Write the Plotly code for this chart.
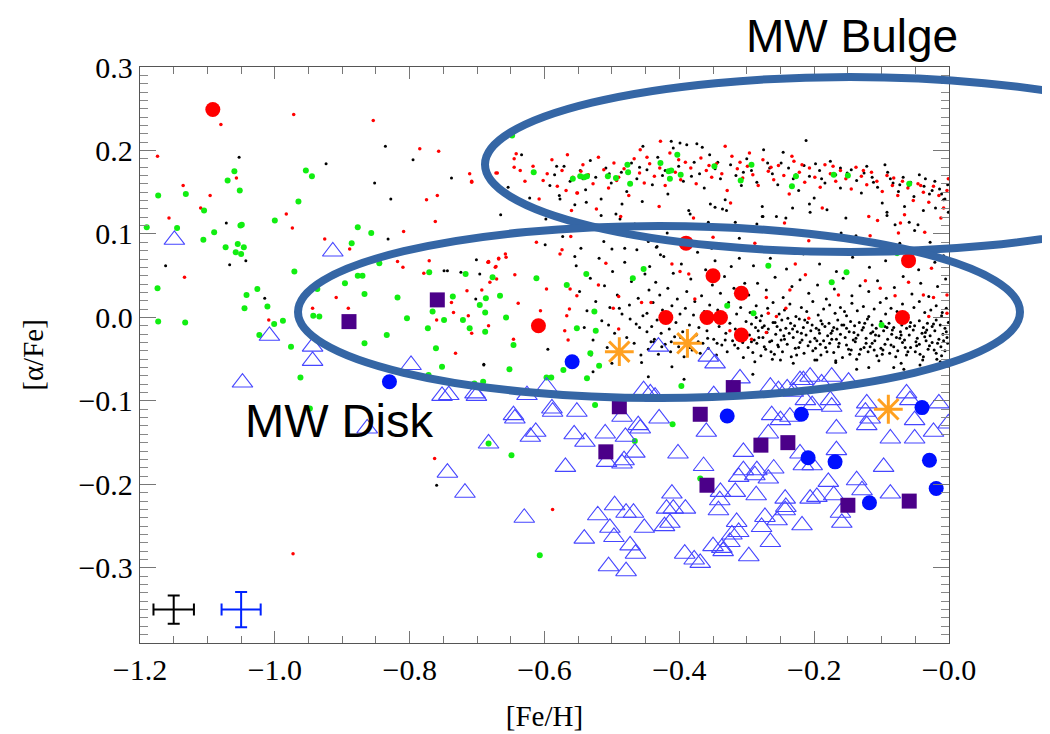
import plotly.graph_objects as go

# ---------------- data ----------------
X_TICKS = [-1.2, -1.0, -0.8, -0.6, -0.4, -0.2, 0.0]
X_TICK_TEXT = ["\u22121.2", "\u22121.0", "\u22120.8", "\u22120.6", "\u22120.4", "\u22120.2", "\u22120.0"]
Y_TICKS = [-0.3, -0.2, -0.1, 0.0, 0.1, 0.2, 0.3]
Y_TICK_TEXT = ["\u22120.3", "\u22120.2", "\u22120.1", "0.0", "0.1", "0.2", "0.3"]

BLACK_FIELD = [(-1.053,0.192),(-1.072,0.113),(-1.162,0.062),(-1.067,0.063),(-1.043,0.068),(-1.015,0.023),
    (-0.852,0.161),(-0.828,0.142),(-0.832,0.094),(-0.701,0.069),(-0.749,0.056),(-0.744,0.056),(-0.724,0.054),
    (-0.696,0.052),(-0.702,0.022),(-0.690,-0.056),(-0.760,-0.201),(-0.836,0.205),(-0.924,0.184),(-0.795,0.189),
    (-0.738,0.167),(-0.665,0.123),(-0.654,0.156),(-0.622,0.143),(-0.634,0.195),(-0.599,0.087),(-0.555,0.073),
    (-0.500,0.082),(-0.481,0.083),(-0.433,0.085),(-0.428,0.075),(-0.446,0.091),(-0.577,0.142),(-0.538,0.138),
    (-0.485,0.136),(-0.516,0.122),(-0.488,0.118),(-0.384,0.124),(-0.354,0.136),(-0.347,0.132),(-0.330,0.128),
    (-0.336,0.130),(-0.399,0.209),(-0.374,0.208),(-0.454,0.205),(-0.317,0.114),(-0.285,0.112),(-0.276,0.121),
    (-0.232,0.131),(-0.207,0.136),(-0.206,0.126),(-0.242,0.119),(-0.277,0.121),(-0.160,0.101),(-0.092,0.122),
    (-0.080,0.111),(-0.059,0.114),(-0.051,0.104),(-0.066,0.133),(-0.028,0.090),(-0.073,0.089),(-0.038,0.128),
    (-0.008,0.141),(-0.001,0.126),(-0.212,0.212),(-0.095,0.183),(-0.595,-0.038),(-0.690,-0.057),(-0.528,-0.065),
    (-0.446,-0.071),(-0.393,-0.074),(-0.291,-0.068),(-0.456,-0.054),(-0.411,-0.059),(-0.137,-0.062),(-0.119,-0.060),
    (-0.082,-0.060),(-0.067,-0.062),(-0.043,-0.057),(-0.018,-0.050),(-0.250,-0.051),(-0.196,-0.051),(-0.168,-0.052)]

BLACK_DISK = [(-0.553,0.062),(-0.548,0.031),(-0.541,-0.012),(-0.537,0.008),(-0.532,0.047),(-0.528,-0.027),
    (-0.524,0.019),(-0.519,0.071),(-0.515,-0.004),(-0.511,0.038),(-0.507,-0.036),(-0.503,0.012),(-0.499,0.055),
    (-0.496,-0.019),(-0.492,0.027),(-0.488,-0.041),(-0.485,0.004),(-0.481,0.066),(-0.478,-0.024),(-0.474,0.015),
    (-0.471,0.043),(-0.467,-0.031),(-0.464,-0.008),(-0.461,0.023),(-0.457,-0.045),(-0.454,0.002),(-0.451,0.052),
    (-0.448,-0.017),(-0.445,0.033),(-0.442,-0.029),(-0.546,0.083),(-0.512,0.091),(-0.478,0.098),(-0.463,0.081),
    (-0.531,-0.045),(-0.500,-0.055),(-0.459,-0.012),(-0.473,-0.002),(-0.489,0.011),(-0.505,-0.009),
    (-0.448,0.005),(-0.446,-0.038),(-0.444,0.061),(-0.441,-0.011),(-0.439,0.018),(-0.437,-0.026),(-0.435,0.042),
    (-0.433,-0.003),(-0.431,-0.044),(-0.429,0.027),(-0.427,-0.019),(-0.425,0.009),(-0.423,0.073),(-0.421,-0.032),
    (-0.419,0.001),(-0.417,0.035),(-0.415,-0.014),(-0.413,-0.041),(-0.411,0.014),(-0.409,0.053),(-0.407,-0.023),
    (-0.405,-0.006),(-0.403,0.022),(-0.401,-0.035),(-0.399,0.004),(-0.397,0.064),(-0.395,-0.017),(-0.393,-0.047),
    (-0.391,0.011),(-0.389,0.031),(-0.387,-0.028),(-0.385,-0.009),(-0.383,0.046),(-0.381,-0.039),(-0.379,0.003),
    (-0.377,0.019),(-0.375,-0.021),(-0.373,0.078),(-0.371,-0.012),(-0.369,-0.043),(-0.367,0.026),(-0.365,-0.031),
    (-0.363,0.007),(-0.361,0.057),(-0.359,-0.016),(-0.357,-0.037),(-0.355,0.015),(-0.353,-0.004),(-0.351,0.039),
    (-0.349,-0.026),(-0.347,0.068),(-0.345,-0.045),(-0.343,0.009),(-0.341,-0.011),(-0.339,0.029),(-0.337,-0.033),
    (-0.335,0.002),(-0.333,0.049),(-0.331,-0.019),(-0.329,-0.041),(-0.327,0.018),(-0.325,-0.007),(-0.323,0.061),
    (-0.321,-0.028),(-0.319,0.035),(-0.317,-0.014),(-0.315,0.004),(-0.313,-0.037),(-0.311,0.071),(-0.309,0.012),
    (-0.307,-0.023),(-0.305,-0.048),(-0.303,0.041),(-0.301,-0.005),(-0.438,-0.029),(-0.426,-0.035),(-0.412,-0.029),
    (-0.398,-0.024),(-0.384,-0.036),(-0.372,-0.029),(-0.358,-0.025),(-0.344,-0.031),(-0.332,-0.027),(-0.318,-0.033),
    (-0.306,-0.030),(-0.434,0.084),(-0.398,0.088),(-0.352,0.083),(-0.326,0.086),
    (-0.298,-0.036),(-0.291,-0.042),(-0.285,-0.031),(-0.279,-0.046),(-0.272,-0.038),(-0.266,-0.029),(-0.259,-0.044),
    (-0.253,-0.035),(-0.247,-0.041),(-0.240,-0.032),(-0.234,-0.047),(-0.228,-0.037),(-0.221,-0.030),(-0.215,-0.043),
    (-0.209,-0.034),(-0.202,-0.040),(-0.196,-0.028),(-0.190,-0.045),(-0.183,-0.036),(-0.177,-0.031),(-0.171,-0.042),
    (-0.164,-0.035),(-0.158,-0.048),(-0.152,-0.033),(-0.145,-0.039),(-0.139,-0.029),(-0.133,-0.044),(-0.126,-0.036),
    (-0.120,-0.041),(-0.114,-0.031),(-0.107,-0.046),(-0.101,-0.037),(-0.095,-0.032),(-0.088,-0.043),(-0.082,-0.035),
    (-0.076,-0.040),(-0.069,-0.030),(-0.063,-0.045),(-0.057,-0.036),(-0.050,-0.041),(-0.044,-0.032),(-0.038,-0.047),
    (-0.031,-0.038),(-0.025,-0.030),(-0.019,-0.043),(-0.012,-0.035),(-0.006,-0.040),(-0.002,-0.031),
    (-0.296,-0.021),(-0.289,-0.027),(-0.283,-0.016),(-0.276,-0.024),(-0.270,-0.018),(-0.263,-0.028),(-0.257,-0.020),
    (-0.250,-0.015),(-0.244,-0.026),(-0.237,-0.019),(-0.231,-0.024),(-0.225,-0.017),(-0.218,-0.027),(-0.212,-0.021),
    (-0.205,-0.016),(-0.199,-0.025),(-0.192,-0.019),(-0.186,-0.028),(-0.180,-0.022),(-0.173,-0.016),(-0.167,-0.026),
    (-0.161,-0.020),(-0.154,-0.024),(-0.148,-0.017),(-0.142,-0.027),(-0.135,-0.021),(-0.129,-0.015),(-0.123,-0.025),
    (-0.116,-0.019),(-0.110,-0.028),(-0.104,-0.022),(-0.097,-0.016),(-0.091,-0.026),(-0.085,-0.020),(-0.078,-0.024),
    (-0.072,-0.017),(-0.066,-0.027),(-0.059,-0.021),(-0.053,-0.015),(-0.047,-0.025),(-0.040,-0.019),(-0.034,-0.028),
    (-0.028,-0.022),(-0.021,-0.016),(-0.015,-0.026),(-0.009,-0.020),(-0.003,-0.024),
    (-0.293,-0.008),(-0.287,-0.012),(-0.280,-0.004),(-0.274,-0.010),(-0.268,-0.014),(-0.261,-0.006),(-0.255,-0.011),
    (-0.248,-0.003),(-0.242,-0.013),(-0.235,-0.007),(-0.229,-0.010),(-0.222,-0.002),(-0.216,-0.012),(-0.210,-0.006),
    (-0.203,-0.009),(-0.197,-0.013),(-0.190,-0.004),(-0.184,-0.011),(-0.178,-0.007),(-0.171,-0.012),(-0.165,-0.003),
    (-0.159,-0.009),(-0.152,-0.013),(-0.146,-0.005),(-0.140,-0.010),(-0.133,-0.006),(-0.127,-0.012),(-0.121,-0.002),
    (-0.114,-0.009),(-0.108,-0.013),(-0.101,-0.005),(-0.095,-0.011),(-0.089,-0.007),(-0.082,-0.012),(-0.076,-0.003),
    (-0.070,-0.009),(-0.063,-0.013),(-0.057,-0.006),(-0.051,-0.010),(-0.044,-0.004),(-0.038,-0.012),(-0.032,-0.007),
    (-0.025,-0.011),(-0.019,-0.003),(-0.013,-0.009),(-0.006,-0.013),(-0.001,-0.006),
    (-0.295,0.006),(-0.286,0.014),(-0.278,0.002),(-0.269,0.011),(-0.261,0.018),(-0.252,0.004),(-0.244,0.009),
    (-0.236,0.016),(-0.227,0.001),(-0.219,0.012),(-0.211,0.007),(-0.202,0.019),(-0.194,0.003),(-0.186,0.010),
    (-0.177,0.015),(-0.169,0.005),(-0.161,0.012),(-0.152,0.002),(-0.144,0.017),(-0.136,0.008),(-0.127,0.013),
    (-0.119,0.001),(-0.111,0.010),(-0.102,0.018),(-0.094,0.004),(-0.086,0.011),(-0.077,0.007),(-0.069,0.016),
    (-0.061,0.003),(-0.052,0.012),(-0.044,0.019),(-0.036,0.006),(-0.027,0.009),(-0.019,0.014),(-0.011,0.002),
    (-0.004,0.011),
    (-0.297,0.027),(-0.284,0.041),(-0.271,0.033),(-0.258,0.048),(-0.246,0.024),(-0.233,0.037),(-0.221,0.045),
    (-0.208,0.029),(-0.195,0.039),(-0.182,0.022),(-0.170,0.034),(-0.157,0.047),(-0.144,0.026),(-0.132,0.038),
    (-0.119,0.031),(-0.106,0.044),(-0.093,0.023),(-0.081,0.036),(-0.068,0.049),(-0.055,0.028),(-0.042,0.041),
    (-0.030,0.025),(-0.017,0.037),(-0.005,0.046),
    (-0.290,0.062),(-0.265,0.071),(-0.241,0.058),(-0.216,0.076),(-0.192,0.064),(-0.167,0.055),(-0.143,0.072),
    (-0.118,0.060),(-0.094,0.068),(-0.069,0.079),(-0.045,0.057),(-0.021,0.066),(-0.008,0.074),
    (-0.288,-0.053),(-0.262,-0.050),(-0.231,-0.055),(-0.199,-0.051),(-0.168,-0.054),(-0.137,-0.050),(-0.104,-0.052),
    (-0.071,-0.055),(-0.039,-0.051),(-0.013,-0.053),(-0.282,-0.024),(-0.254,-0.033),(-0.226,-0.045),(-0.198,-0.037),
    (-0.174,-0.026),(-0.149,-0.038),(-0.123,-0.031),(-0.098,-0.039),(-0.073,-0.025),(-0.048,-0.034),(-0.022,-0.039),
    (-0.286,0.000),(-0.239,-0.001),(-0.193,-0.015),(-0.155,0.007),(-0.113,-0.017),(-0.074,0.003),(-0.033,-0.015),
    (-0.010,0.006),
    (-0.293,-0.029),(-0.277,-0.012),(-0.264,-0.041),(-0.258,-0.006),(-0.245,-0.022),(-0.232,-0.014),(-0.223,-0.036),
    (-0.214,-0.003),(-0.206,-0.029),(-0.188,-0.008),(-0.181,-0.041),(-0.175,-0.019),(-0.163,-0.031),(-0.156,-0.009),
    (-0.147,-0.044),(-0.141,-0.018),(-0.131,-0.038),(-0.125,-0.007),(-0.117,-0.035),(-0.109,-0.021),(-0.099,-0.044),
    (-0.092,-0.012),(-0.086,-0.033),(-0.079,-0.047),(-0.071,-0.021),(-0.065,-0.036),(-0.058,-0.011),(-0.049,-0.029),
    (-0.043,-0.044),(-0.036,-0.023),(-0.029,-0.034),(-0.023,-0.008),(-0.017,-0.031),(-0.011,-0.046),(-0.004,-0.017),
    (-0.274,-0.035),(-0.249,-0.027),(-0.219,-0.019),(-0.191,-0.032),(-0.166,-0.014),(-0.138,-0.025),(-0.111,-0.039),
    (-0.084,-0.015),(-0.061,-0.041),(-0.035,-0.018),(-0.008,-0.028)]

BLACK_BULGE = [(-0.598,0.118),(-0.592,0.158),(-0.585,0.171),(-0.578,0.146),(-0.571,0.181),(-0.562,0.163),
    (-0.555,0.135),(-0.547,0.176),(-0.539,0.153),(-0.532,0.188),(-0.524,0.168),(-0.516,0.142),(-0.509,0.179),
    (-0.501,0.161),(-0.494,0.124),(-0.486,0.174),(-0.478,0.151),(-0.471,0.185),(-0.463,0.166),(-0.455,0.139),
    (-0.448,0.177),(-0.440,0.159),(-0.432,0.192),(-0.425,0.170),(-0.417,0.148),(-0.409,0.203),(-0.401,0.181),
    (-0.394,0.163),(-0.386,0.128),(-0.378,0.186),(-0.370,0.172),(-0.363,0.155),(-0.355,0.195),(-0.347,0.178),
    (-0.339,0.166),(-0.332,0.141),(-0.324,0.183),(-0.316,0.170),(-0.308,0.158),(-0.300,0.190),(-0.293,0.176),
    (-0.285,0.162),(-0.277,0.133),(-0.269,0.185),(-0.262,0.172),(-0.254,0.159),(-0.246,0.198),(-0.238,0.179),
    (-0.231,0.166),(-0.223,0.152),(-0.215,0.182),(-0.207,0.169),(-0.200,0.143),(-0.192,0.176),(-0.184,0.161),
    (-0.176,0.187),(-0.168,0.171),(-0.161,0.155),(-0.153,0.119),(-0.145,0.177),(-0.137,0.164),(-0.130,0.149),
    (-0.122,0.181),(-0.114,0.168),(-0.106,0.156),(-0.099,0.137),(-0.091,0.174),(-0.083,0.161),(-0.075,0.151),
    (-0.068,0.168),(-0.060,0.158),(-0.052,0.145),(-0.044,0.171),(-0.037,0.157),(-0.029,0.148),(-0.021,0.163),
    (-0.014,0.154),(-0.006,0.142),(-0.002,0.159),(-0.573,0.097),(-0.521,0.108),(-0.466,0.112),(-0.418,0.101),
    (-0.357,0.114),(-0.311,0.095),(-0.256,0.121),(-0.221,0.104),(-0.181,0.129),(-0.138,0.098),(-0.092,0.126),
    (-0.046,0.111),(-0.020,0.131),(-0.582,0.181),(-0.543,0.166),(-0.504,0.172),(-0.459,0.180),(-0.421,0.176),
    (-0.382,0.169),(-0.343,0.186),(-0.305,0.174),(-0.266,0.179),(-0.227,0.171),(-0.189,0.166),(-0.151,0.173),
    (-0.112,0.162),(-0.073,0.159),(-0.035,0.166),(-0.389,0.207),(-0.366,0.204),(-0.275,0.201),(-0.412,0.211),
    (-0.249,0.185),(-0.198,0.184),(-0.161,0.179),(-0.126,0.173),(-0.087,0.166),(-0.057,0.162),(-0.025,0.152),
    (-0.011,0.148)]

RED_FIELD = [(-1.080,0.231),(-1.174,0.193),(-1.136,0.158),(-1.096,0.146),(-1.110,0.131),(-1.157,0.119),
    (-1.057,0.167),(-1.134,0.048),(-0.972,0.243),(-0.983,0.124),(-0.974,0.107),(-1.009,-0.003),(-0.926,0.094),
    (-0.889,0.082),(-0.944,0.011),(-0.909,0.024),(-0.891,0.011),(-0.818,0.067),(-0.810,0.060),(-0.809,0.103),
    (-0.775,0.141),(-0.759,0.146),(-0.762,0.115),(-0.771,0.068),(-0.779,0.053),(-0.738,0.018),(-0.735,0.006),
    (-0.760,-0.003),(-0.713,0.002),(-0.708,-0.019),(-0.732,-0.043),(-0.715,0.032),(-0.693,0.033),(-0.683,0.067),
    (-0.683,-0.010),(-0.708,0.163),(-0.763,-0.169),(-0.973,-0.283),(-0.854,0.236),(-0.785,0.202),(-0.757,0.199),
    (-0.711,0.172),(-0.708,0.162),(-0.684,0.066),(-0.672,0.061),(-0.668,0.070),(-0.672,0.173),(-0.588,-0.230)]

RED_DISK = [(-0.683,0.066),(-0.673,0.060),(-0.668,0.071),(-0.657,0.072),(-0.681,0.042),(-0.671,0.046),
    (-0.644,0.051),(-0.597,0.034),(-0.562,0.034),(-0.563,0.010),(-0.606,0.008),(-0.639,0.017),(-0.646,-0.026),
    (-0.565,-0.027),(-0.567,0.002),(-0.570,-0.016),(-0.552,0.026),(-0.520,0.039),(-0.509,0.065),(-0.490,0.025),
    (-0.498,0.011),(-0.490,-0.014),(-0.456,0.018),(-0.442,0.018),(-0.411,0.064),(-0.399,0.055),(-0.386,0.052),
    (-0.377,0.022),(-0.325,-0.016),(-0.271,0.024),(-0.268,0.005),(-0.256,0.001),(-0.236,0.033),(-0.208,-0.001),
    (-0.164,0.027),(-0.124,0.044),(-0.102,0.035),(-0.080,0.026),(-0.060,0.042),(-0.038,0.027),(-0.023,0.024),
    (-0.003,0.027),(-0.003,0.005),(-0.271,-0.018),(-0.293,-0.026),(-0.242,0.011),(-0.030,0.001),
    (-0.106,0.116),(-0.066,0.123),(-0.075,0.101),(-0.117,0.098),(-0.208,0.092),(-0.255,0.078),(-0.213,0.051),
    (-0.228,0.064),(-0.026,0.059),(-0.011,0.070),(-0.561,0.097),(-0.612,0.090),(-0.577,0.076),(-0.574,0.081),
    (-0.658,0.076),(-0.350,0.096),(-0.288,0.089),(-0.523,0.130),(-0.568,0.152),(-0.552,0.149),(-0.670,0.173),
    (-0.645,0.190),(-0.645,0.180)]

RED_BULGE = [(-0.642,0.196),(-0.629,0.163),(-0.617,0.181),(-0.608,0.142),(-0.596,0.172),(-0.589,0.189),
    (-0.581,0.157),(-0.574,0.176),(-0.566,0.195),(-0.558,0.168),(-0.551,0.149),(-0.543,0.183),(-0.535,0.171),
    (-0.528,0.160),(-0.520,0.192),(-0.512,0.177),(-0.505,0.155),(-0.497,0.185),(-0.490,0.168),(-0.482,0.178),
    (-0.475,0.146),(-0.467,0.190),(-0.459,0.173),(-0.452,0.161),(-0.444,0.184),(-0.437,0.169),(-0.429,0.179),
    (-0.421,0.158),(-0.414,0.197),(-0.406,0.174),(-0.398,0.165),(-0.391,0.186),(-0.383,0.179),(-0.375,0.160),
    (-0.368,0.191),(-0.360,0.176),(-0.352,0.168),(-0.345,0.184),(-0.337,0.172),(-0.329,0.152),(-0.322,0.193),
    (-0.314,0.178),(-0.306,0.167),(-0.299,0.181),(-0.291,0.171),(-0.283,0.158),(-0.276,0.189),(-0.268,0.175),
    (-0.260,0.165),(-0.253,0.182),(-0.245,0.170),(-0.237,0.148),(-0.230,0.187),(-0.222,0.174),(-0.214,0.162),
    (-0.207,0.179),(-0.199,0.168),(-0.191,0.156),(-0.184,0.183),(-0.176,0.172),(-0.168,0.163),(-0.161,0.176),
    (-0.153,0.166),(-0.145,0.154),(-0.138,0.180),(-0.130,0.169),(-0.122,0.159),(-0.115,0.174),(-0.107,0.163),
    (-0.099,0.151),(-0.092,0.170),(-0.084,0.158),(-0.076,0.146),(-0.069,0.163),(-0.061,0.155),(-0.053,0.140),
    (-0.046,0.160),(-0.038,0.150),(-0.030,0.138),(-0.023,0.157),(-0.015,0.146),(-0.008,0.131),(-0.003,0.152),
    (-0.001,0.166),(-0.560,0.128),(-0.487,0.121),(-0.430,0.133),(-0.379,0.119),(-0.324,0.137),(-0.244,0.113),
    (-0.188,0.131),(-0.119,0.121),(-0.072,0.113),(-0.036,0.102),(-0.012,0.119),(-0.636,0.176),(-0.602,0.164),
    (-0.546,0.175),(-0.493,0.164),(-0.448,0.192),(-0.401,0.189),(-0.356,0.182),(-0.310,0.186),(-0.264,0.180),
    (-0.218,0.183),(-0.172,0.181),(-0.127,0.176),(-0.082,0.167),(-0.042,0.158),(-0.458,0.201),(-0.332,0.205),
    (-0.296,0.197),(-0.233,0.193),(-0.428,0.211)]

GREEN = [(-1.173,0.146),(-1.132,0.148),(-1.190,0.108),(-1.145,0.107),(-1.105,0.128),(-1.106,0.093),
    (-1.090,0.102),(-1.070,0.164),(-1.060,0.175),(-1.052,0.152),(-1.051,0.110),(-1.049,0.111),(-1.073,0.084),
    (-1.055,0.088),(-1.058,0.078),(-1.050,0.076),(-1.046,0.084),(-1.000,0.116),(-0.965,0.139),(-0.971,0.055),
    (-1.026,0.034),(-1.042,0.027),(-1.045,0.011),(-1.011,0.013),(-1.174,0.035),(-1.173,-0.005),(-1.133,-0.006),
    (-1.001,-0.008),(-0.988,-0.004),(-1.023,-0.021),(-0.976,-0.035),(-0.877,0.108),(-0.857,0.101),(-0.886,0.089),
    (-0.896,0.041),(-0.877,0.050),(-0.870,0.050),(-0.867,0.028),(-0.845,0.065),(-0.818,0.024),(-0.771,0.054),
    (-0.717,0.052),(-0.736,0.025),(-0.687,0.023),(-0.696,0.015),(-0.688,0.006),(-0.766,0.007),(-0.749,-0.003),
    (-0.721,-0.003),(-0.773,-0.013),(-0.711,-0.013),(-0.688,-0.017),(-0.804,-0.001),(-0.834,-0.021),
    (-0.867,-0.031),(-0.943,0.002),(-0.934,0.001),(-0.937,0.034),(-0.962,-0.072),(-0.761,-0.037),(-0.752,-0.059),
    (-0.772,-0.069),(-0.704,-0.079),(-0.691,-0.077),(-0.948,-0.109),(-0.954,0.176),(-0.945,0.169),(-0.677,0.048),
    (-0.648,0.218),(-0.616,0.174),(-0.558,0.166),(-0.547,0.169),(-0.541,0.168),(-0.537,0.169),(-0.506,0.169),
    (-0.494,0.167),(-0.477,0.183),(-0.476,0.174),(-0.473,0.160),(-0.428,0.185),(-0.416,0.175),(-0.412,0.176),
    (-0.414,0.166),(-0.398,0.171),(-0.403,0.195),(-0.348,0.181),(-0.309,0.164),(-0.293,0.183),(-0.227,0.169),
    (-0.233,0.157),(-0.171,0.171),(-0.150,0.170),(-0.059,0.160),(-0.268,0.062),(-0.152,0.054),(-0.174,0.042),
    (-0.077,0.077),(-0.612,0.047),(-0.538,0.052),(-0.453,0.058),(-0.469,0.047),(-0.567,0.039),(-0.666,0.026),
    (-0.657,0.000),(-0.646,-0.033),(-0.552,-0.013),(-0.524,-0.016),(-0.526,0.007),(-0.532,-0.043),(-0.519,-0.058),
    (-0.572,-0.063),(-0.652,-0.062),(-0.597,-0.072),(-0.590,-0.072),(-0.537,-0.073),(-0.329,0.014),(-0.290,0.005),
    (-0.397,-0.082),(-0.525,-0.105),(-0.410,-0.128),(-0.100,-0.009),(-0.683,-0.151),(-0.649,-0.165),
    (-0.607,-0.285),(-0.466,-0.148),(-0.369,-0.193)]

TRIANGLES = [(-1.149,0.093),(-0.914,0.079),(-1.008,-0.022),(-0.944,-0.035),(-0.944,-0.052),(-1.048,-0.078),
    (-0.798,-0.057),(-0.752,-0.094),(-0.742,-0.093),(-0.703,-0.091),(-0.701,-0.094),(-0.863,-0.133),
    (-0.744,-0.186),(-0.718,-0.210),(-0.683,-0.151),(-0.630,-0.240),(-0.646,-0.117),(-0.644,-0.121),
    (-0.588,-0.113),(-0.552,-0.113),(-0.621,-0.143),(-0.613,-0.137),(-0.556,-0.140),(-0.540,-0.149),
    (-0.510,-0.139),(-0.480,-0.143),(-0.485,-0.119),(-0.461,-0.129),(-0.458,-0.133),(-0.430,-0.121),
    (-0.466,-0.162),(-0.485,-0.175),(-0.482,-0.171),(-0.508,-0.173),(-0.402,-0.163),(-0.360,-0.137),
    (-0.364,-0.178),(-0.569,-0.179),(-0.411,-0.211),(-0.419,-0.229),(-0.409,-0.229),(-0.391,-0.229),
    (-0.414,-0.246),(-0.496,-0.225),(-0.521,-0.237),(-0.479,-0.234),(-0.468,-0.234),(-0.503,-0.252),
    (-0.497,-0.263),(-0.452,-0.252),(-0.541,-0.265),(-0.473,-0.273),(-0.465,-0.283),(-0.505,-0.298),
    (-0.479,-0.304),(-0.422,-0.250),(-0.392,-0.283),(-0.378,-0.290),(-0.350,-0.274),(-0.340,-0.219),
    (-0.342,-0.231),(-0.305,-0.161),(-0.268,-0.139),(-0.263,-0.117),(-0.250,-0.123),(-0.236,-0.119),
    (-0.221,-0.163),(-0.216,-0.177),(-0.203,-0.177),(-0.167,-0.133),(-0.167,-0.159),(-0.122,-0.129),
    (-0.117,-0.121),(-0.087,-0.145),(-0.051,-0.145),(-0.051,-0.123),(-0.023,-0.137),(-0.097,-0.179),
    (-0.137,-0.195),(-0.129,-0.207),(-0.179,-0.197),(-0.171,-0.213),(-0.087,-0.211),(-0.161,-0.234),
    (-0.159,-0.246),(-0.218,-0.249),(-0.206,-0.217),(-0.196,-0.215),(-0.243,-0.217),(-0.242,-0.227),
    (-0.243,-0.231),(-0.255,-0.243),(-0.273,-0.239),(-0.278,-0.251),(-0.265,-0.269),(-0.305,-0.183),
    (-0.312,-0.191),(-0.285,-0.183),(-0.288,-0.189),(-0.260,-0.181),(-0.268,-0.193),(-0.339,-0.209),
    (-0.317,-0.209),(-0.286,-0.213),(-0.315,-0.245),(-0.312,-0.257),(-0.322,-0.260),(-0.325,-0.269),
    (-0.337,-0.276),(-0.335,-0.280),(-0.297,-0.286),(-0.369,-0.294),(-0.206,-0.071),(-0.216,-0.075),
    (-0.221,-0.075),(-0.174,-0.071),(-0.189,-0.079),(-0.149,-0.077),(-0.265,-0.083),(-0.253,-0.087),
    (-0.240,-0.085),(-0.231,-0.089),(-0.176,-0.099),(-0.174,-0.107),(-0.213,-0.099),(-0.203,-0.105),
    (-0.122,-0.103),(-0.124,-0.113),(-0.063,-0.091),(-0.058,-0.099),(-0.015,-0.103),(-0.001,-0.127),
    (-0.431,-0.035),(-0.357,-0.047),(-0.347,-0.055),(-0.626,-0.093),(-0.589,-0.109),(-0.597,-0.083),
    (-0.453,-0.087),(-0.443,-0.091),(-0.436,-0.095),(-0.349,-0.093),(-0.310,-0.073)]

BLUE_X = [-0.830, -0.559, -0.329, -0.219, -0.040, -0.209, -0.169, -0.029, -0.019, -0.118]
BLUE_Y = [-0.077, -0.053, -0.118, -0.116, -0.108, -0.168, -0.173, -0.171, -0.205, -0.222]

SQ_X = [-0.890, -0.759, -0.489, -0.369, -0.320, -0.509, -0.359, -0.279, -0.239, -0.150, -0.059]
SQ_Y = [-0.005, 0.021, -0.107, -0.116, -0.084, -0.161, -0.201, -0.153, -0.150, -0.225, -0.220]

RED_BIG_X = [-1.092, -0.390, -0.350, -0.060, -0.308, -0.609, -0.420, -0.359, -0.339, -0.308, -0.069]
RED_BIG_Y = [0.249, 0.089, 0.050, 0.068, 0.029, -0.010, 0.000, 0.000, 0.000, -0.021, 0.000]

AST_X = [-0.489, -0.388, -0.090]
AST_Y = [-0.041, -0.031, -0.110]

# typical error bars
ERR_X = [-1.15, -1.05]
ERR_Y = [-0.35, -0.35]
ERR_DX = [0.030, 0.029]
ERR_DY = [0.017, 0.021]


def unzip(pairs):
    return [p[0] for p in pairs], [p[1] for p in pairs]


SERIF = "Liberation Serif, Times New Roman, serif"
SANS = "Liberation Sans, Arial, sans-serif"

fig = go.Figure()

bx, by = unzip(BLACK_FIELD + BLACK_DISK + BLACK_BULGE)
fig.add_trace(go.Scatter(x=bx, y=by, mode="markers",
                         marker=dict(size=3, color="black", line=dict(width=0))))
rx, ry = unzip(RED_FIELD + RED_DISK + RED_BULGE)
fig.add_trace(go.Scatter(x=rx, y=ry, mode="markers",
                         marker=dict(size=3.5, color="#ff0000", line=dict(width=0))))
gx, gy = unzip(GREEN)
fig.add_trace(go.Scatter(x=gx, y=gy, mode="markers",
                         marker=dict(size=6, color="#11ee11", line=dict(width=0))))
tx, ty = unzip(TRIANGLES)
fig.add_trace(go.Scatter(x=tx, y=ty, mode="markers",
                         marker=dict(symbol="triangle-up-open", size=18,
                                     color="#4646ff", line=dict(width=1.1, color="#4646ff"))))
fig.add_trace(go.Scatter(x=BLUE_X, y=BLUE_Y, mode="markers",
                         marker=dict(size=15, color="#0010ff", line=dict(width=0))))
fig.add_trace(go.Scatter(x=SQ_X, y=SQ_Y, mode="markers",
                         marker=dict(symbol="square", size=15, color="#4b0089", line=dict(width=0))))
fig.add_trace(go.Scatter(x=RED_BIG_X, y=RED_BIG_Y, mode="markers",
                         marker=dict(size=15, color="#ff0000", line=dict(width=0))))
fig.add_trace(go.Scatter(x=AST_X, y=AST_Y, mode="markers",
                         marker=dict(symbol="asterisk-open", size=24, color="#ffa020",
                                     line=dict(width=3, color="#ffa020"))))

for ex, ey, dx, dy, col in zip(ERR_X, ERR_Y, ERR_DX, ERR_DY, ["black", "#0022ff"]):
    fig.add_trace(go.Scatter(x=[ex], y=[ey], mode="markers",
                             marker=dict(size=1, color=col),
                             error_x=dict(type="constant", value=dx, color=col, thickness=2, width=6),
                             error_y=dict(type="constant", value=dy, color=col, thickness=2, width=6)))

# plot area in page pixels: x 140..949, y 67..643 (page has an 8 px body margin)
def px_x(p):
    return (p - 140) / 809.0

def px_y(p):
    return (643 - p) / 576.0

ell_col = "#3566a5"
fig.add_shape(type="circle", xref="paper", yref="paper",
              x0=px_x(485), x1=px_x(1215), y0=px_y(252), y1=px_y(77),
              line=dict(color=ell_col, width=8), layer="above")
fig.add_shape(type="circle", xref="paper", yref="paper",
              x0=px_x(298), x1=px_x(1020), y0=px_y(398), y1=px_y(226),
              line=dict(color=ell_col, width=8), layer="above")

fig.add_annotation(text="MW Bulge", xref="paper", yref="paper", x=px_x(852), y=px_y(9),
                   xanchor="center", yanchor="top", showarrow=False, borderpad=0,
                   font=dict(family=SANS, size=46, color="black"))
fig.add_annotation(text="MW Disk", xref="paper", yref="paper", x=px_x(339), y=px_y(421),
                   xanchor="center", yanchor="middle", showarrow=False,
                   font=dict(family=SANS, size=47, color="black"))

axis_common = dict(
    showgrid=False, zeroline=False, showline=True, linecolor="#555555", linewidth=1.3,
    mirror="allticks", ticks="inside", tickcolor="#777777", tickwidth=1.3,
    tickfont=dict(family=SERIF, size=30, color="black"),
)

fig.update_xaxes(range=[-1.2, 0.0], tickmode="array", tickvals=X_TICKS, ticktext=X_TICK_TEXT,
                 ticklen=12,
                 minor=dict(dtick=0.05, tick0=0, ticklen=7, tickcolor="#777777", tickwidth=1.3,
                            ticks="inside"),
                 title=dict(text="[Fe/H]", font=dict(family=SERIF, size=29, color="black"), standoff=20),
                 **axis_common)
fig.update_yaxes(range=[-0.39, 0.30], tickmode="array", tickvals=Y_TICKS, ticktext=Y_TICK_TEXT,
                 ticklen=16,
                 minor=dict(dtick=0.01, tick0=0, ticklen=8, tickcolor="#888888", tickwidth=1.3,
                            ticks="inside"),
                 title=dict(text="[\u03b1/Fe]", font=dict(family=SERIF, size=29, color="black"), standoff=26),
                 **axis_common)

fig.update_layout(width=1050, height=734, autosize=False,
                  margin=dict(l=132, r=109, t=59, b=99),
                  paper_bgcolor="white", plot_bgcolor="white", showlegend=False)

fig.write_html("out.html")
